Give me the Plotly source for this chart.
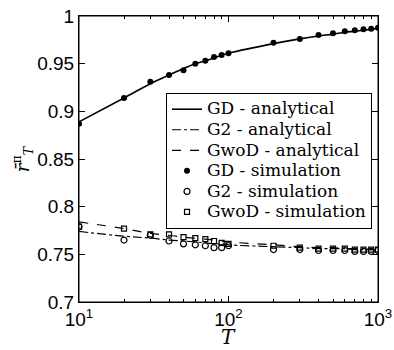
import plotly.graph_objects as go

T = [10, 20, 30, 40, 50, 60, 70, 80, 90, 100, 200, 300, 400, 500, 600, 700, 800, 900, 1000]

gd_analytical = [0.889, 0.914, 0.929, 0.938, 0.945, 0.950, 0.953, 0.956, 0.959, 0.961,
                 0.971, 0.976, 0.979, 0.981, 0.983, 0.984, 0.985, 0.986, 0.987]
g2_analytical = [0.774, 0.769, 0.767, 0.765, 0.764, 0.763, 0.762, 0.761, 0.761, 0.760,
                 0.758, 0.757, 0.756, 0.756, 0.756, 0.755, 0.755, 0.755, 0.755]
gwod_analytical = [0.784, 0.777, 0.772, 0.770, 0.768, 0.767, 0.766, 0.765, 0.764, 0.763,
                   0.760, 0.758, 0.757, 0.757, 0.756, 0.756, 0.756, 0.755, 0.755]

gd_sim = [0.887, 0.914, 0.931, 0.938, 0.943, 0.950, 0.953, 0.957, 0.959, 0.961,
          0.972, 0.976, 0.980, 0.982, 0.984, 0.985, 0.986, 0.9866, 0.9876]
g2_sim = [0.779, 0.765, 0.770, 0.764, 0.761, 0.760, 0.759, 0.757, 0.757, 0.759,
          0.755, 0.755, 0.754, 0.754, 0.754, 0.753, 0.753, 0.753, 0.754]
gwod_sim = [0.779, 0.777, 0.771, 0.771, 0.768, 0.767, 0.766, 0.764, 0.762, 0.761,
            0.759, 0.757, 0.756, 0.756, 0.756, 0.755, 0.755, 0.755, 0.755]

series_names = ["GD - analytical", "G2 - analytical", "GwoD - analytical",
                "GD - simulation", "G2 - simulation", "GwoD - simulation"]

y_tickvals = [0.7, 0.75, 0.8, 0.85, 0.9, 0.95, 1.0]
y_ticktext = ["0.7", "0.75", "0.8", "0.85", "0.9", "0.95", "1"]
x_tickvals = [10, 100, 1000]
x_ticktext = ["10<sup>1</sup>", "10<sup>2</sup>", "10<sup>3</sup>"]


def lname(s):
    return '<span style="font-size:17px">' + s + "</span>"


fig = go.Figure()
fig.add_trace(go.Scatter(x=T, y=gd_analytical, mode="lines", name=lname(series_names[0]),
                         line=dict(color="black", width=1.6, shape="spline")))
fig.add_trace(go.Scatter(x=T, y=g2_analytical, mode="lines", name=lname(series_names[1]),
                         line=dict(color="black", width=1.2, dash="dashdot", shape="spline")))
fig.add_trace(go.Scatter(x=T, y=gwod_analytical, mode="lines", name=lname(series_names[2]),
                         line=dict(color="black", width=1.2, dash="dash", shape="spline")))
fig.add_trace(go.Scatter(x=T, y=gd_sim, mode="markers", name=lname(series_names[3]),
                         marker=dict(symbol="circle", size=6, color="black")))
fig.add_trace(go.Scatter(x=T, y=g2_sim, mode="markers", name=lname(series_names[4]),
                         marker=dict(symbol="circle-open", size=6, color="black",
                                     line=dict(width=1.2, color="black"))))
fig.add_trace(go.Scatter(x=T, y=gwod_sim, mode="markers", name=lname(series_names[5]),
                         marker=dict(symbol="square-open", size=5, color="black",
                                     line=dict(width=1.2, color="black"))))

fig.update_layout(
    width=394, height=350,
    margin=dict(l=79, r=16, t=16, b=48, autoexpand=False),
    paper_bgcolor="white", plot_bgcolor="white",
    showlegend=True,
    legend=dict(x=0.291, y=0.731, xanchor="left", yanchor="top",
                bordercolor="black", borderwidth=1, bgcolor="white",
                font=dict(family="DejaVu Serif", size=13.5, color="black"),
                itemwidth=30, tracegroupgap=0),
    xaxis=dict(type="log", range=[1, 3], tickvals=x_tickvals, ticktext=x_ticktext,
               automargin=False, ticklabeloverflow="allow",
               showgrid=False, zeroline=False, showline=True, linecolor="black",
               linewidth=1, mirror="allticks", ticks="inside", ticklen=6,
               tickcolor="black",
               minor=dict(ticks="inside", ticklen=3, dtick="D1", tickcolor="black",
                          showgrid=False),
               tickfont=dict(family="Liberation Sans", size=19, color="black")),
    yaxis=dict(range=[0.7, 1.0], tickvals=y_tickvals, ticktext=y_ticktext,
               automargin=False, ticklabeloverflow="allow",
               showgrid=False, zeroline=False, showline=True, linecolor="black",
               linewidth=1, mirror="allticks", ticks="inside", ticklen=6,
               tickcolor="black",
               tickfont=dict(family="Liberation Sans", size=19, color="black")),
    shapes=[dict(type="rect", xref="paper", yref="paper", x0=0, x1=1, y0=0, y1=1,
                 line=dict(color="black", width=1), fillcolor="rgba(0,0,0,0)",
                 layer="above")],
    annotations=[
        dict(text="<i>T</i>", xref="paper", yref="paper", x=0.5, y=-0.172,
             xanchor="center", yanchor="bottom", showarrow=False,
             font=dict(family="DejaVu Serif", size=20, color="black")),
        dict(text="<i>r\u0304</i><sup>\u03c0</sup><sub><i>T</i></sub>", xref="paper", yref="paper",
             x=-0.19, y=0.50, xanchor="center", yanchor="middle", showarrow=False,
             textangle=-90,
             font=dict(family="DejaVu Serif", size=18, color="black")),
    ],
)

fig.write_html("out.html", config={"displayModeBar": False},
               post_script="document.body.style.margin='0';")
